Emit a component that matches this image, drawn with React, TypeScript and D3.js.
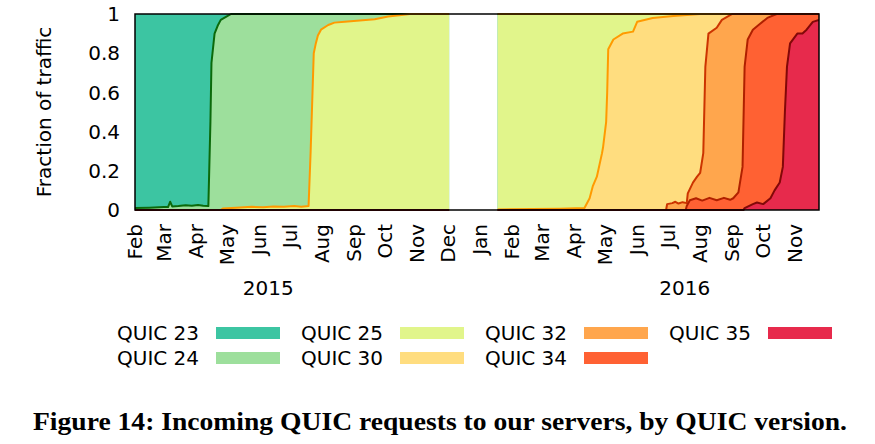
import React from "react";
import * as d3 from "d3";

// ---- data: cumulative fraction of traffic with version >= v ----
type Pt = [string, number];

const VERSIONS = ["QUIC 23", "QUIC 24", "QUIC 25", "QUIC 30", "QUIC 32", "QUIC 34", "QUIC 35"];

const QUIC23: Pt[] = [["2015-02-01", 1], ["2015-12-02", 1], ["2016-01-18", 1], ["2016-11-24", 1]];

const QUIC24: Pt[] = [
  ["2015-02-01", 0.01], ["2015-02-15", 0.012], ["2015-03-01", 0.015], ["2015-03-05", 0.015],
  ["2015-03-07", 0.042], ["2015-03-09", 0.018], ["2015-03-15", 0.02], ["2015-03-22", 0.024],
  ["2015-03-28", 0.022], ["2015-04-03", 0.026], ["2015-04-08", 0.022], ["2015-04-13", 0.02],
  ["2015-04-15", 0.45], ["2015-04-16", 0.75], ["2015-04-19", 0.9], ["2015-04-22", 0.94],
  ["2015-04-25", 0.97], ["2015-04-30", 0.985], ["2015-05-05", 1], ["2015-12-02", 1],
  ["2016-01-18", 1], ["2016-11-24", 1],
];

const QUIC25: Pt[] = [
  ["2015-02-01", 0], ["2015-04-25", 0], ["2015-04-27", 0.008], ["2015-05-10", 0.012],
  ["2015-05-25", 0.016], ["2015-06-05", 0.014], ["2015-06-15", 0.018], ["2015-06-25", 0.016],
  ["2015-07-05", 0.02], ["2015-07-12", 0.017], ["2015-07-19", 0.02], ["2015-07-21", 0.3],
  ["2015-07-24", 0.8], ["2015-07-26", 0.85], ["2015-07-28", 0.89], ["2015-07-31", 0.92],
  ["2015-08-07", 0.944], ["2015-08-13", 0.956], ["2015-08-23", 0.96], ["2015-09-21", 0.973],
  ["2015-10-04", 0.987], ["2015-10-17", 0.995], ["2015-10-25", 1], ["2015-12-02", 1],
  ["2016-01-18", 1], ["2016-11-24", 1],
];

const QUIC30: Pt[] = [
  ["2015-02-01", 0], ["2015-12-02", 0],
  ["2016-01-18", 0.003], ["2016-02-20", 0.005], ["2016-03-18", 0.007], ["2016-04-11", 0.01],
  ["2016-04-16", 0.06], ["2016-04-19", 0.12], ["2016-04-23", 0.17], ["2016-04-28", 0.29],
  ["2016-04-29", 0.32], ["2016-05-02", 0.45], ["2016-05-03", 0.6], ["2016-05-04", 0.82],
  ["2016-05-09", 0.87], ["2016-05-18", 0.9], ["2016-05-28", 0.91], ["2016-06-01", 0.96],
  ["2016-06-16", 0.98], ["2016-07-06", 0.99], ["2016-08-01", 1], ["2016-11-24", 1],
];

const QUIC32: Pt[] = [
  ["2015-02-01", 0], ["2015-12-02", 0],
  ["2016-01-18", 0], ["2016-06-29", 0], ["2016-06-30", 0.03], ["2016-07-05", 0.035],
  ["2016-07-08", 0.042], ["2016-07-11", 0.033], ["2016-07-15", 0.04], ["2016-07-19", 0.035],
  ["2016-07-20", 0.085], ["2016-07-25", 0.14], ["2016-07-29", 0.17], ["2016-08-01", 0.19],
  ["2016-08-04", 0.29], ["2016-08-06", 0.73], ["2016-08-09", 0.9], ["2016-08-17", 0.93],
  ["2016-08-22", 0.97], ["2016-08-27", 0.985], ["2016-09-01", 1], ["2016-11-24", 1],
];

const QUIC34: Pt[] = [
  ["2015-02-01", 0], ["2015-12-02", 0],
  ["2016-01-18", 0], ["2016-07-18", 0], ["2016-07-19", 0.02], ["2016-07-22", 0.05],
  ["2016-07-28", 0.06], ["2016-08-03", 0.048], ["2016-08-10", 0.062], ["2016-08-17", 0.05],
  ["2016-08-24", 0.062], ["2016-08-30", 0.052], ["2016-09-02", 0.06], ["2016-09-07", 0.09],
  ["2016-09-11", 0.22], ["2016-09-13", 0.73], ["2016-09-16", 0.87], ["2016-09-21", 0.92],
  ["2016-09-28", 0.95], ["2016-10-05", 0.98], ["2016-10-14", 1], ["2016-11-24", 1],
];

const QUIC35: Pt[] = [
  ["2015-02-01", 0], ["2015-12-02", 0],
  ["2016-01-18", 0], ["2016-09-12", 0], ["2016-09-13", 0.01], ["2016-09-21", 0.03],
  ["2016-09-25", 0.038], ["2016-10-01", 0.03], ["2016-10-08", 0.06], ["2016-10-12", 0.1],
  ["2016-10-17", 0.14], ["2016-10-20", 0.22], ["2016-10-22", 0.5], ["2016-10-24", 0.73],
  ["2016-10-27", 0.85], ["2016-11-03", 0.9], ["2016-11-08", 0.9], ["2016-11-12", 0.92],
  ["2016-11-18", 0.96], ["2016-11-24", 0.97],
];

const SERIES: Pt[][] = [QUIC23, QUIC24, QUIC25, QUIC30, QUIC32, QUIC34, QUIC35];

const DOMAIN_START = "2015-02-01";
const DOMAIN_END = "2016-11-24";
const GAP_START = "2015-12-02";
const GAP_END = "2016-01-18";
const Y_TICKS = [0, 0.2, 0.4, 0.6, 0.8, 1];
const YEAR_LABELS: Pt[] = [["2015-06-10", 2015], ["2016-07-17", 2016]];
const CAPTION = "Figure 14: Incoming QUIC requests to our servers, by QUIC version.";

// ---- styles ----
const FILLS = ["#3cc5a2", "#9ddf9c", "#e1f58b", "#ffdd7f", "#ffa64d", "#ff6133", "#e72a4c"];
const LINES = [null, "#0b6a0b", "#ff9a00", "#ff9a00", "#cc3400", "#b02000", "#820808"];

const W = 875, H = 444;
const M = { left: 135, right: 819, top: 14, bottom: 210 };
const FONT = "'DejaVu Sans', sans-serif";

export default function App() {
  const parse = d3.timeParse("%Y-%m-%d");
  const x = d3.scaleTime().domain([parse(DOMAIN_START)!, parse(DOMAIN_END)!]).range([M.left, M.right]);
  const y = d3.scaleLinear().domain([0, 1]).range([M.bottom, M.top]);
  const gs = parse(GAP_START)!.getTime();
  const ge = parse(GAP_END)!.getTime();

  const segs = (s: Pt[]) => {
    const pts = s.map(([d, v]) => ({ date: parse(d)!, v }));
    return [pts.filter(p => p.date.getTime() <= gs), pts.filter(p => p.date.getTime() >= ge)];
  };

  const area = d3.area<{ date: Date; v: number }>()
    .x(d => x(d.date)).y0(y(0)).y1(d => y(d.v));
  const line = d3.line<{ date: Date; v: number }>()
    .x(d => x(d.date)).y(d => y(d.v));

  const months = d3.timeMonth.range(parse(DOMAIN_START)!, d3.timeDay.offset(parse(DOMAIN_END)!, 1));
  const fmt = d3.timeFormat("%b");

  return (
    <svg width={W} height={H} style={{ position: "absolute", left: 0, top: 0, background: "#fff" }}>
      <defs>
        <clipPath id="plotclip">
          <rect x={M.left} y={M.top - 2} width={M.right - M.left} height={M.bottom - M.top + 4} />
        </clipPath>
      </defs>
      <g clipPath="url(#plotclip)">
        {SERIES.map((s, i) =>
          segs(s).map((seg, j) => (
            <path key={`a${i}-${j}`} d={area(seg) || ""} fill={FILLS[i]} stroke="none" />
          ))
        )}
        {SERIES.map((s, i) =>
          LINES[i]
            ? segs(s).map((seg, j) => (
                <path key={`l${i}-${j}`} d={line(seg) || ""} fill="none" stroke={LINES[i]!}
                  strokeWidth={2} strokeLinejoin="round" />
              ))
            : null
        )}
      </g>
      <rect x={M.left} y={M.top} width={M.right - M.left} height={M.bottom - M.top}
        fill="none" stroke="#000" strokeWidth={1.5} />

      {Y_TICKS.map(t => (
        <text key={`y${t}`} x={M.left - 15} y={y(t)} dy="0.36em" textAnchor="end"
          fontFamily={FONT} fontSize={20} fill="#000">{String(t)}</text>
      ))}
      <text transform={`translate(51, ${(M.top + M.bottom) / 2}) rotate(-90)`} textAnchor="middle"
        fontFamily={FONT} fontSize={20} fill="#000">Fraction of traffic</text>

      {months.map((m, i) => (
        <text key={`m${i}`} transform={`translate(${x(m)}, 224) rotate(-90)`} dy="0.36em"
          textAnchor="end" fontFamily={FONT} fontSize={20} fill="#000">{fmt(m)}</text>
      ))}
      {YEAR_LABELS.map(([d, yr]) => (
        <text key={`yr${yr}`} x={x(parse(d)!)} y={295} textAnchor="middle"
          fontFamily={FONT} fontSize={20} fill="#000">{String(yr)}</text>
      ))}

      {VERSIONS.map((v, i) => {
        const col = Math.floor(i / 2), row = i % 2;
        const tx = 117 + col * 184, by = 340 + row * 25;
        return (
          <g key={v}>
            <text x={tx} y={by} fontFamily={FONT} fontSize={20} fill="#000">{v}</text>
            <rect x={tx + 99} y={by - 13} width={64} height={12} fill={FILLS[i]} />
          </g>
        );
      })}

      <text x={440} y={430} textAnchor="middle" fontFamily="'Liberation Serif', 'Times New Roman', serif"
        fontWeight="bold" fontSize={25} textLength={814} lengthAdjust="spacingAndGlyphs" fill="#000">
        {CAPTION}
      </text>
    </svg>
  );
}
